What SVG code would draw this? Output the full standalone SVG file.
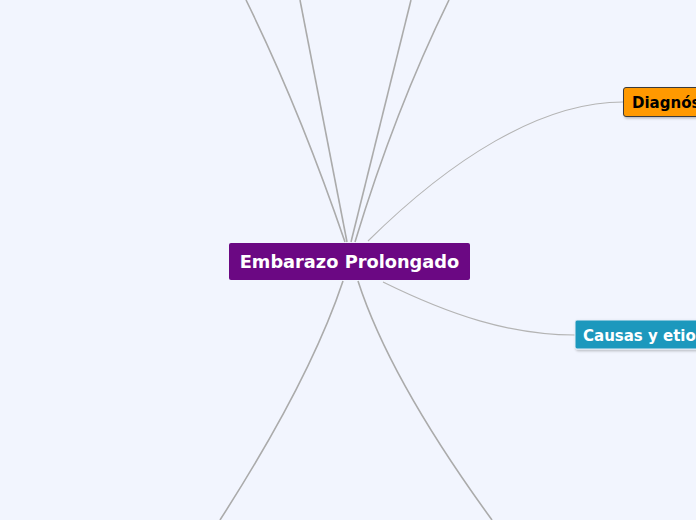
<svg xmlns="http://www.w3.org/2000/svg" width="696" height="520" viewBox="0 0 696 520">
<style>
.edge{fill:none;stroke:#ababab;stroke-width:1.6}
.thin{fill:none;stroke:#b4b4b4;stroke-width:1.1}
.t{font-family:"DejaVu Sans",sans-serif;font-weight:bold}
</style>
<defs>
<filter id="sh" x="-10%" y="-20%" width="130%" height="160%">
<feDropShadow dx="1" dy="1.5" stdDeviation="1" flood-color="#000" flood-opacity="0.25"/>
</filter>
</defs>
<rect width="696" height="520" fill="#f2f5fe"/>
<g id="connectors">
<path class="edge" d="M246,0 Q300,110 345,242"/>
<path class="edge" d="M300,0 L347,242"/>
<path class="edge" d="M411,0 L351,242"/>
<path class="edge" d="M449,0 Q395,110 355,242"/>
<path class="thin" d="M368,241 C450,160 540,102 623,102"/>
<path class="edge" d="M343,281 Q310,380 220,520"/>
<path class="edge" d="M358,281 Q390,380 492,520"/>
<path class="thin" d="M383,282 C450,315 510,335 575,335"/>
</g>
<g id="center">
<rect x="229" y="243" width="241" height="37" rx="2" fill="#6b0883"/>
<text class="t" x="349.5" y="268" font-size="17.8" fill="#ffffff" text-anchor="middle">Embarazo Prolongado</text>
</g>
<g id="diagnostico">
<rect x="623.5" y="87.5" width="90" height="29" rx="2.5" fill="#ff9900" stroke="#3a3a3a" stroke-width="1" filter="url(#sh)"/>
<text class="t" x="632" y="107.5" font-size="15" fill="#000000">Diagnós</text>
</g>
<g id="causas">
<rect x="575" y="320" width="140" height="29" rx="2" fill="#1a98bd" stroke="#e8eef8" stroke-width="1" filter="url(#sh)"/>
<text class="t" x="583" y="341" font-size="15" fill="#ffffff">Causas y etiol</text>
</g>
</svg>
